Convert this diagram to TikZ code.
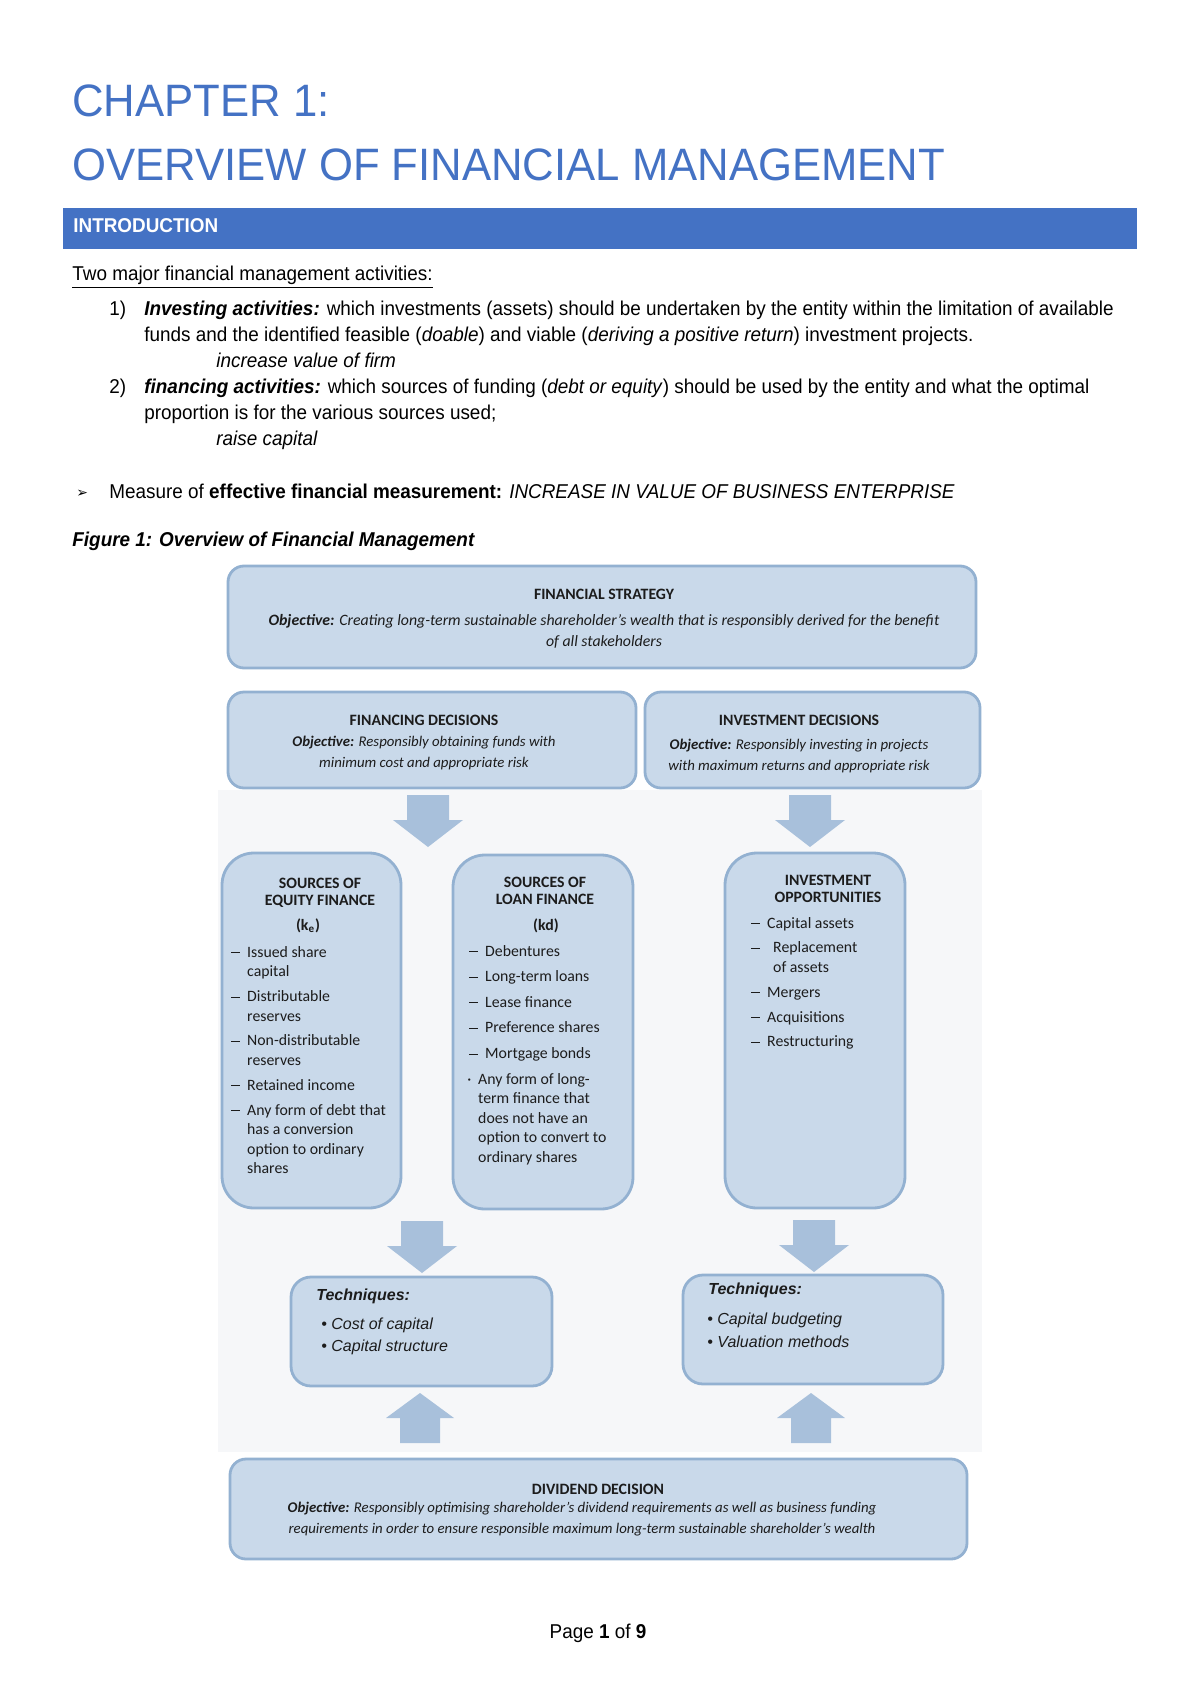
\documentclass[tikz,border=0pt]{standalone}
\usepackage{fontspec}
\setmainfont{Liberation Sans}
\newfontfamily\bodyfont[FakeStretch=0.945]{Liberation Sans}
\newfontfamily\headfont[FakeStretch=0.962]{Liberation Sans}
\newfontfamily\boxfont{Carlito}
\newfontfamily\symfont{DejaVu Sans}

\definecolor{titleblue}{HTML}{4472C4}
\definecolor{boxfill}{HTML}{C9D9EA}
\definecolor{boxline}{HTML}{93B1D1}
\definecolor{arrowfill}{HTML}{A8C0DB}
\definecolor{figback}{HTML}{F6F7F9}
\definecolor{boxtext}{HTML}{1C1C1C}

\newcommand{\blockdown}[2]{\fill[arrowfill] (#1-21,#2) -- (#1+21,#2) -- (#1+21,#2+25) -- (#1+35,#2+25) -- (#1,#2+52) -- (#1-35,#2+25) -- (#1-21,#2+25) -- cycle;}
\newcommand{\blockup}[2]{\fill[arrowfill] (#1-20,#2) -- (#1+20,#2) -- (#1+20,#2-25) -- (#1+34,#2-25) -- (#1,#2-50) -- (#1-34,#2-25) -- (#1-20,#2-25) -- cycle;}
\newcommand{\dsh}{\rule[2pt]{4.3pt}{0.5pt}}

\tikzset{
  panel/.style={draw=boxline, line width=1.4pt, fill=boxfill, rounded corners=8pt},
  tallpanel/.style={panel, rounded corners=16pt},
  bodytxt/.style={font=\bodyfont\fontsize{10}{13}\selectfont, anchor=base west, inner sep=0pt},
  boxhead/.style={font=\boxfont\bfseries\fontsize{7.9}{8.6}\selectfont, align=center, inner sep=0pt, text=boxtext},
  boxobj/.style={font=\boxfont\itshape\fontsize{7.4}{10.5}\selectfont, align=center, inner sep=0pt, text=boxtext},
  listtxt/.style={font=\boxfont\fontsize{7.9}{9.8}\selectfont, anchor=north west, inner sep=0pt, text=boxtext},
  techtxt/.style={font=\itshape\fontsize{8}{10.5}\selectfont, anchor=west, inner sep=0pt, text=boxtext},
}

\begin{document}
\begin{tikzpicture}[x=0.5pt,y=-0.5pt]
\useasboundingbox (0,0) rectangle (1200,1696);
\fill[white] (0,0) rectangle (1200,1696);

\node[font=\headfont\fontsize{22.7}{26}\selectfont, text=titleblue, anchor=base west, inner sep=0pt] (chap) at (72,117) {CHAPTER 1:};
\node[font=\headfont\fontsize{22.7}{26}\selectfont, text=titleblue, anchor=base west, inner sep=0pt] (title) at (72,181) {OVERVIEW OF FINANCIAL MANAGEMENT};
\fill[titleblue] (63,208) rectangle (1137,249);
\node[font=\bodyfont\bfseries\fontsize{10}{12}\selectfont, text=white, anchor=base west, inner sep=0pt] (intro) at (73,233) {INTRODUCTION};

\node[bodytxt] (two) at (72,280) {\underline{Two major financial management activities:}};
\node[bodytxt] (n1) at (109,315) {1)};
\node[bodytxt] (inv1) at (144,315) {\textbf{\textit{Investing activities:}} which investments (assets) should be undertaken by the entity within the limitation of available};
\node[bodytxt] (inv2) at (144,341) {funds and the identified feasible (\textit{doable}) and viable (\textit{deriving a positive return}) investment projects.};
\node[bodytxt] (inv3) at (216,367) {\textit{increase value of firm}};
\node[bodytxt] (n2) at (109,393) {2)};
\node[bodytxt] (fin1) at (144,393) {\textbf{\textit{financing activities:}} which sources of funding (\textit{debt or equity}) should be used by the entity and what the optimal};
\node[bodytxt] (fin2) at (144,419) {proportion is for the various sources used;};
\node[bodytxt] (fin3) at (216,445) {\textit{raise capital}};
\node[bodytxt, font=\symfont\fontsize{7}{9}\selectfont] (mark) at (76,497) {➢};
\node[bodytxt] (measure) at (109,498) {Measure of \textbf{effective financial measurement:} \textit{INCREASE IN VALUE OF BUSINESS ENTERPRISE}};
\node[bodytxt] (fig) at (72,546) {\textbf{\textit{Figure 1: Overview of Financial Management}}};

\fill[figback] (218,790) rectangle (982,1452);

\draw[panel] (228,566) rectangle (976,668);
\node[boxhead] (fs) at (604,594) {FINANCIAL STRATEGY};
\node[boxobj, font=\boxfont\itshape\fontsize{7.9}{10.5}\selectfont] (fsobj) at (604,631) {\textbf{Objective:} Creating long-term sustainable shareholder’s wealth that is responsibly derived for the benefit\\of all stakeholders};

\draw[panel] (228,692) rectangle (636,788);
\node[boxhead] (fd) at (424,720) {FINANCING DECISIONS};
\node[boxobj] (fdobj) at (424,753) {\textbf{Objective:} Responsibly obtaining funds with\\minimum cost and appropriate risk};

\draw[panel] (645,692) rectangle (980,788);
\node[boxhead] (id) at (799,720) {INVESTMENT DECISIONS};
\node[boxobj] (idobj) at (799,756) {\textbf{Objective:} Responsibly investing in projects\\with maximum returns and appropriate risk};

\blockdown{428}{795}
\blockdown{810}{795}

\draw[tallpanel] (222,853) rectangle (401,1208);
\node[boxhead, anchor=north] (eqhead) at (320,878) {SOURCES OF\\EQUITY FINANCE};
\node[boxhead] (ke) at (308,926) {(k\textsubscript{e})};
\node[listtxt] (eqlist) at (231,943) {\begin{tabular}{@{}l@{\hspace{3.6pt}}l@{}}
\dsh & Issued share\\ & capital\\[2.6pt]
\dsh & Distributable\\ & reserves\\[2.6pt]
\dsh & Non-distributable\\ & reserves\\[2.6pt]
\dsh & Retained income\\[2.6pt]
\dsh & Any form of debt that\\ & has a conversion\\ & option to ordinary\\ & shares
\end{tabular}};

\draw[tallpanel] (453,855) rectangle (633,1209);
\node[boxhead, anchor=north] (lnhead) at (545,877) {SOURCES OF\\LOAN FINANCE};
\node[boxhead] (kd) at (546,926) {(kd)};
\node[listtxt] (lnlist) at (469,942) {\begin{tabular}{@{}l@{\hspace{3.6pt}}l@{}}
\dsh & Debentures\\[3pt]
\dsh & Long-term loans\\[3pt]
\dsh & Lease finance\\[3pt]
\dsh & Preference shares\\[3pt]
\dsh & Mortgage bonds\\[3pt]
\hspace{-1pt}· & \hspace{-3.5pt}Any form of long-\\ & \hspace{-3.5pt}term finance that\\ & \hspace{-3.5pt}does not have an\\ & \hspace{-3.5pt}option to convert to\\ & \hspace{-3.5pt}ordinary shares
\end{tabular}};

\draw[tallpanel] (725,853) rectangle (905,1208);
\node[boxhead, anchor=north] (iohead) at (828,875) {INVESTMENT\\OPPORTUNITIES};
\node[listtxt] (iolist) at (751,914) {\begin{tabular}{@{}l@{\hspace{3.6pt}}l@{}}
\dsh & Capital assets\\[2.6pt]
\dsh & \hspace{3pt}Replacement\\ & \hspace{3pt}of assets\\[2.6pt]
\dsh & Mergers\\[2.6pt]
\dsh & Acquisitions\\[2.6pt]
\dsh & Restructuring
\end{tabular}};

\blockdown{422}{1221}
\blockdown{814}{1220}

\draw[panel, rounded corners=10pt] (291,1277) rectangle (552,1386);
\node[techtxt, font=\bfseries\itshape\fontsize{8}{10}\selectfont] (tech1) at (316,1296) {Techniques:};
\node[techtxt] (tech1a) at (321,1325) {\textbullet\ Cost of capital};
\node[techtxt] (tech1b) at (321,1347) {\textbullet\ Capital structure};

\draw[panel, rounded corners=10pt] (683,1275) rectangle (943,1384);
\node[techtxt, font=\bfseries\itshape\fontsize{8}{10}\selectfont] (tech2) at (708,1290) {Techniques:};
\node[techtxt] (tech2a) at (707,1320) {\textbullet\ Capital budgeting};
\node[techtxt] (tech2b) at (707,1342) {\textbullet\ Valuation methods};

\blockup{420}{1443}
\blockup{811}{1443}

\draw[panel] (230,1459) rectangle (967,1559);
\node[boxhead] (dd) at (598,1489) {DIVIDEND DECISION};
\node[boxobj] (ddobj) at (582,1519) {\textbf{Objective:} Responsibly optimising shareholder’s dividend requirements as well as business funding\\requirements in order to ensure responsible maximum long-term sustainable shareholder’s wealth};

\node[font=\bodyfont\fontsize{10}{12}\selectfont, anchor=base, inner sep=0pt] (page) at (598,1638) {Page \textbf{1} of \textbf{9}};
\end{tikzpicture}
\end{document}
